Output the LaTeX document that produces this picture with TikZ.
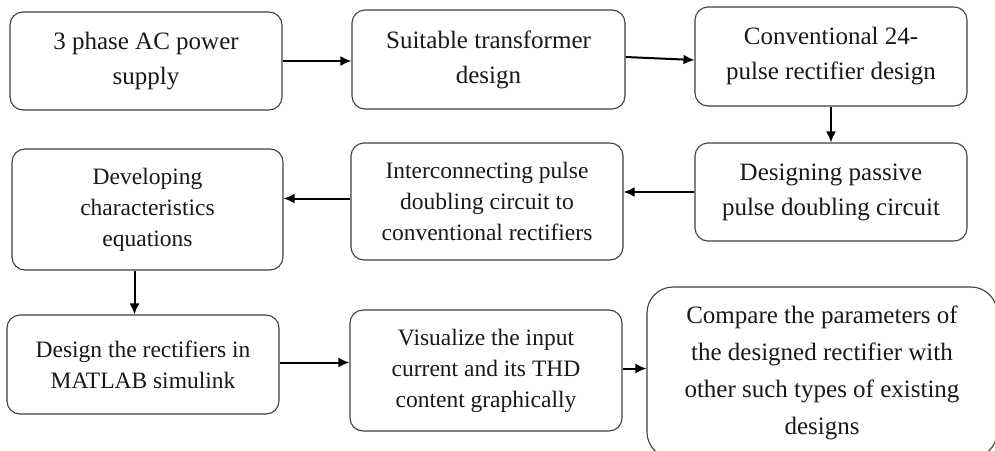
\documentclass[tikz,border=0pt]{standalone}
\usepackage{fontspec}
\setmainfont{Liberation Serif}
\usetikzlibrary{arrows.meta}
\begin{document}
\begin{tikzpicture}[x=1pt,y=-1pt,
  box/.style={draw=black!75,line width=1.1pt,rounded corners=13pt,align=center,
    inner sep=0pt,text=black!90},
  big/.style={font=\fontsize{25}{35}\selectfont},
  small/.style={font=\fontsize{23.5}{31}\selectfont},
  arr/.style={line width=2pt,-{Latex[length=11pt,width=10pt]}}]
\clip (0,0) rectangle (995,450);
\fill[white] (0,0) rectangle (995,450);
\node[box,big,minimum width=272pt,minimum height=98pt] (b1) at (146,61) {3 phase AC power\\supply};
\node[box,big,minimum width=273pt,minimum height=99pt] (b2) at (488.5,59.5) {Suitable transformer\\design};
\node[box,big,minimum width=272pt,minimum height=99pt] (b3) at (831,56.5) {Conventional 24-\\pulse rectifier design};
\node[box,big,minimum width=272pt,minimum height=98pt] (b4) at (831,192) {Designing passive\\pulse doubling circuit};
\node[box,small,minimum width=272pt,minimum height=117pt] (b5) at (487,201.5) {Interconnecting pulse\\doubling circuit to\\conventional rectifiers};
\node[box,small,minimum width=271pt,minimum height=121pt] (b6) at (147.5,209.5) {Developing\\characteristics\\equations};
\node[box,small,minimum width=272pt,minimum height=99pt] (b7) at (143,364.5) {Design the rectifiers in\\MATLAB simulink};
\node[box,small,minimum width=272pt,minimum height=121pt] (b8) at (486,370.5) {Visualize the input\\current and its THD\\content graphically};
\node[box,font=\fontsize{25}{37}\selectfont,rounded corners=26pt,minimum width=350pt,minimum height=171pt] (b9) at (822,372.5) {Compare the parameters of\\the designed rectifier with\\other such types of existing\\designs};
\draw[arr] (b1.east) -- (b1.east -| b2.west);
\draw[arr] ([yshift=2.5pt]b2.east) -- ([yshift=-3.5pt]b3.west);
\draw[arr] (b3.south) -- (b4.north);
\draw[arr] (b4.west) -- (b4.west -| b5.east);
\draw[arr] ([yshift=3pt]b5.west) -- ([yshift=3pt]b5.west -| b6.east);
\draw[arr] ([xshift=-13pt]b6.south) -- ([xshift=-13pt]b6.south |- b7.north);
\draw[arr] ([yshift=2pt]b7.east) -- ([yshift=2pt]b7.east -| b8.west);
\draw[arr] ([yshift=2pt]b8.east) -- ([yshift=2pt]b8.east -| b9.west);
\end{tikzpicture}
\end{document}
